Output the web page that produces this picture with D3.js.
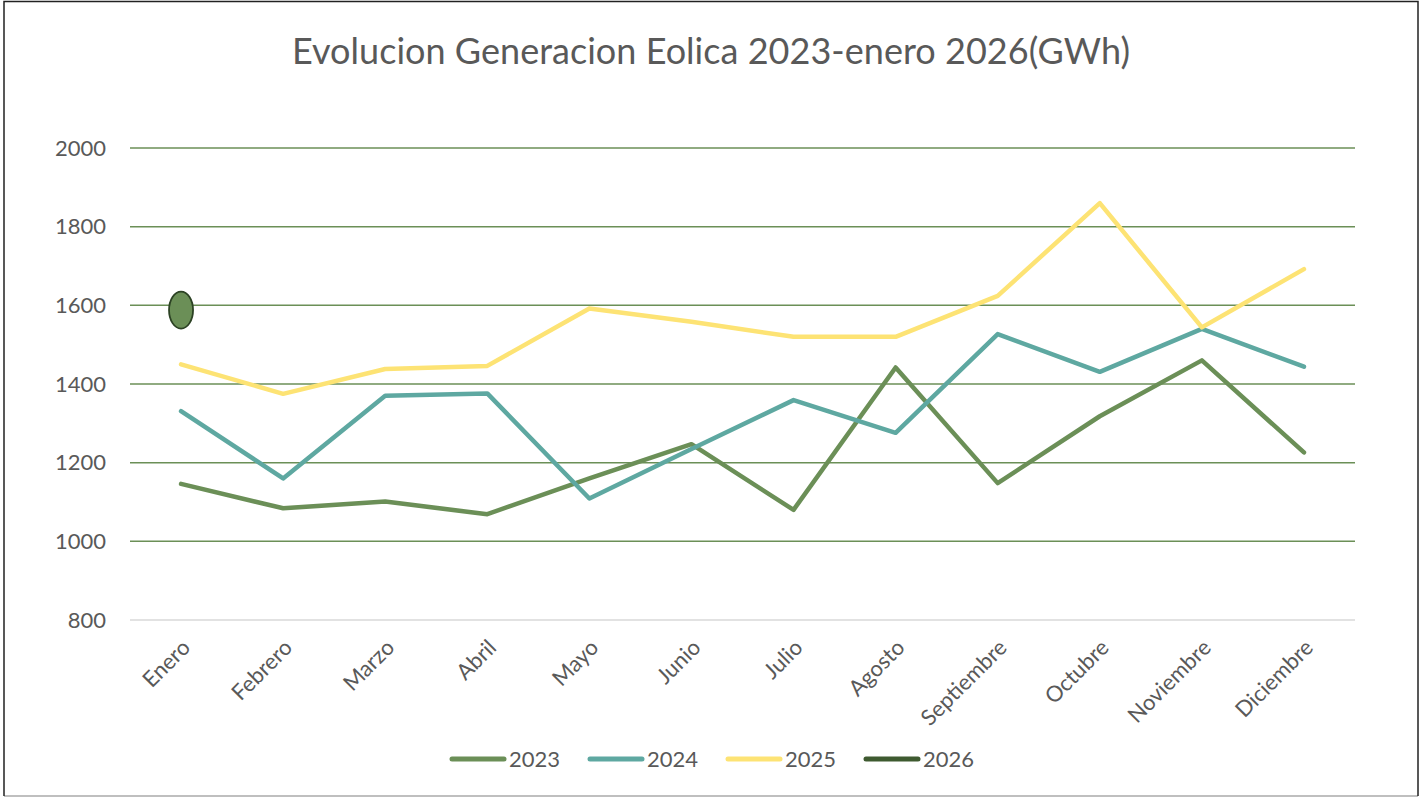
<!DOCTYPE html>
<html>
<head>
<meta charset="utf-8">
<script src="https://cdn.jsdelivr.net/npm/d3@7"></script>
<style>
  body { margin: 0; background: #fff; }
  svg { display: block; font-family: Lato, "Open Sans", sans-serif; }
</style>
</head>
<body>
<svg id="chart" width="1425" height="797"></svg>
<script>
// data (GWh)
var months = ["Enero", "Febrero", "Marzo", "Abril", "Mayo", "Junio", "Julio",
  "Agosto", "Septiembre", "Octubre", "Noviembre", "Diciembre"];
var gen2023 = [1146, 1084, 1101, 1069, 1160, 1247, 1080, 1442, 1148, 1318, 1460, 1226];
var gen2024 = [1331, 1160, 1370, 1376, 1109, 1235, 1359, 1276, 1527, 1431, 1540, 1444];
var gen2025 = [1450, 1375, 1438, 1446, 1592, 1558, 1520, 1520, 1624, 1860, 1544, 1692];
var gen2026 = [1588];
var yTicks = [800, 1000, 1200, 1400, 1600, 1800, 2000];
var seriesNames = ["2023", "2024", "2025", "2026"];
var seriesColors = ["#6b8f57", "#5ea8a1", "#fde374", "#3e5a30"];

var series = [gen2023, gen2024, gen2025, gen2026];

var svg = d3.select("#chart");

// outer frame
svg.append("line").attr("x1", 4).attr("y1", 796).attr("x2", 1418).attr("y2", 796)
  .attr("stroke", "#aaa").attr("stroke-width", 1.5);
svg.append("path").attr("d", "M4,796V1.5H1418V796")
  .attr("fill", "none").attr("stroke", "#222").attr("stroke-width", 1.5);

// title
svg.append("text")
  .attr("x", 711).attr("y", 64)
  .attr("text-anchor", "middle")
  .attr("fill", "#595959")
  .style("font-size", "36px")
  .attr("textLength", 838)
  .text("Evolucion Generacion Eolica 2023-enero 2026(GWh)");

var x = d3.scalePoint().domain(months).range([130, 1355]).padding(0.5);
var y = d3.scaleLinear().domain([800, 2000]).range([620, 148]);

// gridlines
svg.append("g").selectAll("line")
  .data(yTicks)
  .enter().append("line")
  .attr("x1", 130).attr("x2", 1355)
  .attr("y1", function(d) { return y(d); })
  .attr("y2", function(d) { return y(d); })
  .attr("stroke", function(d) { return d == 800 ? "#d9d9d9" : "#6b8f57"; })
  .attr("stroke-width", 1.5);

// y axis labels
var yAxis = d3.axisLeft(y).tickValues(yTicks).tickFormat(d3.format("d")).tickSize(0).tickPadding(0);
var gy = svg.append("g").attr("transform", "translate(106,0)").call(yAxis);
gy.select(".domain").remove();
gy.selectAll("text")
  .attr("fill", "#595959")
  .style("font-size", "22px")
  .style("font-family", "Lato, sans-serif");

// x axis labels (rotated)
var xAxis = d3.axisBottom(x).tickSize(0).tickPadding(0);
var gx = svg.append("g").attr("transform", "translate(0,620)").call(xAxis);
gx.select(".domain").remove();
gx.selectAll("text")
  .attr("fill", "#595959")
  .style("font-size", "22px")
  .style("font-family", "Lato, sans-serif")
  .attr("text-anchor", "end")
  .attr("dy", 0)
  .attr("y", 0)
  .attr("transform", "translate(10,29) rotate(-45)");

// lines
var line = d3.line()
  .x(function(d, i) { return x(months[i]); })
  .y(function(d) { return y(d); });

series.forEach(function(vals, s) {
  if (vals.length > 1) {
    svg.append("path")
      .datum(vals)
      .attr("d", line)
      .attr("fill", "none")
      .attr("stroke", seriesColors[s])
      .attr("stroke-width", 4.5)
      .attr("stroke-linecap", "round")
      .attr("stroke-linejoin", "round");
  }
});

// 2026 only has January: single marker
svg.append("g").selectAll("ellipse")
  .data(gen2026)
  .enter().append("ellipse")
  .attr("cx", function(d, i) { return x(months[i]); })
  .attr("cy", function(d) { return y(d); })
  .attr("rx", 12).attr("ry", 18.5)
  .attr("fill", "#6b8f57")
  .attr("stroke", "#2c4224")
  .attr("stroke-width", 1.8);

// legend
var legend = svg.append("g").attr("transform", "translate(452,759)");
var item = legend.selectAll("g")
  .data(seriesNames)
  .enter().append("g")
  .attr("transform", function(d, i) { return "translate(" + (i * 138) + ",0)"; });
item.append("line")
  .attr("x1", 0).attr("x2", 52)
  .attr("stroke", function(d, i) { return seriesColors[i]; })
  .attr("stroke-width", 5)
  .attr("stroke-linecap", "round");
item.append("text")
  .attr("x", 57).attr("y", 8)
  .attr("fill", "#595959")
  .style("font-size", "22px")
  .text(function(d) { return d; });
</script>
</body>
</html>
